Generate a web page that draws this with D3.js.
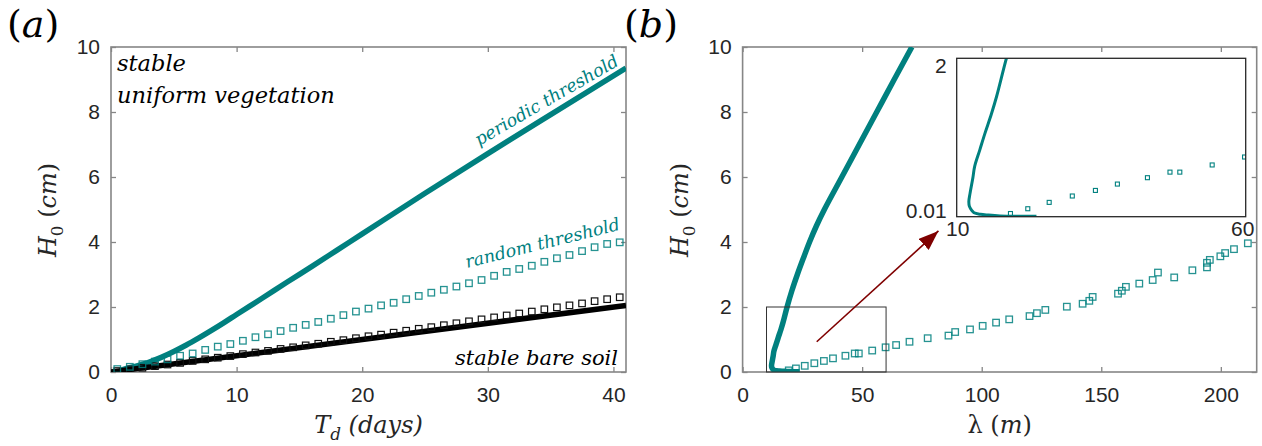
<!DOCTYPE html>
<html><head><meta charset="utf-8">
<script src="https://cdn.jsdelivr.net/npm/d3@7"></script>
<style>
body{margin:0;background:#fff;}
svg{display:block;}
</style></head><body>
<svg id="chart" width="1262" height="446"></svg>
<script>
// ---------- data ----------
// panel (a): periodic threshold curve
const tdPeriodic = [0.7,1,2,3,4,5,6,7,8,9,10,12,14,16,18,20,25,30,35,41];
const hPeriodic  = [0.04,0.08,0.18,0.3,0.45,0.63,0.83,1.05,1.28,1.52,1.77,2.26,2.76,3.25,3.75,4.25,5.5,6.72,7.92,9.35];
// panel (a): bare soil line
const tdBareLine = [0,41];
const hBareLine  = [0,2.05];
// panel (a): square markers
const tdSquares = [0.5,1.5,2.5,3.5,4.5,5.5,6.5,7.5,8.5,9.5,10.5,11.5,12.5,13.5,14.5,15.5,16.5,17.5,18.5,19.5,20.5,21.5,22.5,23.5,24.5,25.5,26.5,27.5,28.5,29.5,30.5,31.5,32.5,33.5,34.5,35.5,36.5,37.5,38.5,39.5,40.5];
const hRandom = [0.09,0.16,0.24,0.32,0.39,0.50,0.57,0.68,0.78,0.86,0.96,1.07,1.16,1.26,1.36,1.45,1.54,1.64,1.75,1.86,1.95,2.05,2.13,2.24,2.34,2.44,2.53,2.63,2.73,2.83,2.96,3.08,3.17,3.27,3.39,3.50,3.60,3.72,3.84,3.94,3.99];
const hBare = [0.03,0.08,0.13,0.18,0.23,0.28,0.34,0.39,0.44,0.49,0.55,0.60,0.65,0.71,0.76,0.82,0.87,0.93,0.98,1.04,1.10,1.15,1.21,1.27,1.33,1.38,1.44,1.50,1.56,1.62,1.68,1.74,1.80,1.86,1.93,1.99,2.05,2.11,2.18,2.24,2.30];
// panel (b): periodic curve (lambda vs H0)
const lamCurve = [23.8,20,17.5,15.5,14.1,13,12.6,12.2,12.1,12.3,12.8,13.1,14.0,14.9,16.0,16.9,18.6,20.6,22.9,25.4,28.0,30.9,34.2,41.5,48.8,56.1,63.4,70.8];
const hCurveB  = [0.005,0.012,0.02,0.03,0.04,0.06,0.09,0.14,0.2,0.3,0.5,0.64,0.85,1.06,1.3,1.52,2.0,2.5,3.0,3.5,4.0,4.5,5.0,6.0,7.0,8.0,9.0,10.0];
// panel (b): random squares
const lamSquares = [19.3,22.3,26.0,30.0,34.0,37.8,43.0,46.9,48.6,54.2,59.8,64.2,69.8,77.4,86.1,88.9,95.1,100.4,106.0,111.5,120.0,123.1,126.6,135.6,142.2,145.0,146.4,157.0,158.6,160.3,165.9,171.5,173.7,180.5,188.1,194.2,194.2,195.4,199.8,201.8,205.5,211.3];
const hSquaresB  = [0.05,0.11,0.19,0.27,0.34,0.42,0.50,0.57,0.57,0.66,0.76,0.83,0.93,1.04,1.12,1.23,1.31,1.42,1.52,1.62,1.72,1.81,1.91,2.01,2.10,2.19,2.31,2.41,2.50,2.62,2.72,2.83,3.06,2.91,3.13,3.22,3.36,3.45,3.56,3.66,3.78,3.96];
// ticks
const xTicksA = [0,10,20,30,40];
const xTicksB = [0,50,100,150,200];
const yTicks  = [0,2,4,6,8,10];
// zoom box / inset ranges
const zoomLam = [10,60];
const zoomH   = [0.01,2];
const insetTickLabels = ["10","60","0.01","2"];
// arrow (data coords of panel b)
const arrowFrom = [31,0.93];
const arrowTo   = [81.9,4.34];

// ---------- setup ----------
const TEAL = "#00807f";
const AXC  = "#868686";
const TXT  = "#262626";
const SANS = "Liberation Sans, Arial, Helvetica, sans-serif";
const SERIF= "DejaVu Serif, Liberation Serif, serif";
const svg = d3.select("#chart");

const xA = d3.scaleLinear().domain([0,41]).range([111,626]);
const yA = d3.scaleLinear().domain([0,10]).range([372,47]);
const xB = d3.scaleLinear().domain([0,215]).range([742.6,1256.7]);
const yB = d3.scaleLinear().domain([0,10]).range([372,47]);

const defs = svg.append("defs");
function clip(id, x, y) {
  defs.append("clipPath").attr("id", id).append("rect")
    .attr("x", x.range()[0]).attr("y", y.range()[1])
    .attr("width", x.range()[1]-x.range()[0]).attr("height", y.range()[0]-y.range()[1]);
}
clip("clipA", xA, yA); clip("clipB", xB, yB);

function axes(x, y, xt, yt) {
  const g = svg.append("g");
  const x0 = x.range()[0], x1 = x.range()[1], y0 = y.range()[0], y1 = y.range()[1];
  const style = sel => {
    sel.select(".domain").remove();
    sel.selectAll(".tick line").attr("stroke", AXC).attr("stroke-width", 1.3);
    sel.selectAll(".tick text").attr("fill", TXT).attr("font-family", SANS).attr("font-size", 21);
  };
  g.append("g").attr("transform", `translate(0,${y0})`)
    .call(d3.axisBottom(x).tickValues(xt).tickSize(-5).tickPadding(15).tickFormat(d3.format("d"))).call(style);
  g.append("g").attr("transform", `translate(0,${y1})`)
    .call(d3.axisTop(x).tickValues(xt).tickSize(-5).tickFormat("")).call(style);
  g.append("g").attr("transform", `translate(${x0},0)`)
    .call(d3.axisLeft(y).tickValues(yt).tickSize(-5).tickPadding(11).tickFormat(d3.format("d"))).call(style);
  g.append("g").attr("transform", `translate(${x1},0)`)
    .call(d3.axisRight(y).tickValues(yt).tickSize(-5).tickFormat("")).call(style);
  g.append("rect").attr("x", x0).attr("y", y1).attr("width", x1-x0).attr("height", y0-y1)
    .attr("fill", "none").attr("stroke", AXC).attr("stroke-width", 1.6);
  return g;
}

// rich text helper: parts [{t, it, sub}]
function rich(g, parts, size, attrs) {
  const t = g.append("text").attr("font-family", SERIF).attr("font-size", size).attr("fill", TXT);
  Object.entries(attrs||{}).forEach(([k,v]) => t.attr(k, v));
  let shifted = 0;
  parts.forEach(p => {
    const s = t.append("tspan").text(p.t)
      .attr("font-style", p.it ? "italic" : "normal");
    const want = p.sub ? size*0.28 : 0;
    if (want !== shifted) { s.attr("dy", want - shifted); shifted = want; }
    if (p.sub) s.attr("font-size", size*0.7);
    if (p.ls) s.attr("letter-spacing", p.ls);
  });
  return t;
}

// ---------- panel (a) ----------
axes(xA, yA, xTicksA, yTicks);
const gA = svg.append("g").attr("clip-path", "url(#clipA)");
gA.append("path")
  .datum(tdPeriodic.map((t,i)=>[t,hPeriodic[i]]))
  .attr("d", d3.line().x(d=>xA(d[0])).y(d=>yA(d[1])).curve(d3.curveMonotoneX))
  .attr("fill","none").attr("stroke",TEAL).attr("stroke-width",5.5);
gA.append("path")
  .datum(tdBareLine.map((t,i)=>[t,hBareLine[i]]))
  .attr("d", d3.line().x(d=>xA(d[0])).y(d=>yA(d[1])))
  .attr("fill","none").attr("stroke","#000").attr("stroke-width",5.5);
const sqA = 6.5;
gA.selectAll(".sb").data(tdSquares.map((t,i)=>[t,hBare[i]])).join("rect")
  .attr("x", d=>xA(d[0])-sqA/2).attr("y", d=>yA(d[1])-sqA/2)
  .attr("width", sqA).attr("height", sqA)
  .attr("fill","none").attr("stroke","#111").attr("stroke-width",1.2);
gA.selectAll(".sr").data(tdSquares.map((t,i)=>[t,hRandom[i]])).join("rect")
  .attr("x", d=>xA(d[0])-sqA/2).attr("y", d=>yA(d[1])-sqA/2)
  .attr("width", sqA).attr("height", sqA)
  .attr("fill","none").attr("stroke",TEAL).attr("stroke-width",1.3).attr("stroke-opacity",0.85);

// annotations (a)
rich(svg, [{t:"stable", it:true}], 22.5, {x:117, y:71, fill:"#000"});
rich(svg, [{t:"uniform vegetation", it:true}], 22.5, {x:117, y:103, fill:"#000"});
rich(svg, [{t:"stable bare soil", it:true}], 21, {x:618, y:365, "text-anchor":"end", fill:"#000"});
rich(svg, [{t:"periodic threshold", it:true}], 17.5, {transform:"translate(479,146) rotate(-30)", fill:TEAL});
rich(svg, [{t:"random threshold", it:true}], 17.5, {transform:"translate(467,268) rotate(-14)", fill:TEAL});

// axis labels (a)
rich(svg, [{t:"T",it:true},{t:"d",it:true,sub:true},{t:" (days)",it:true}], 24, {x:368.5, y:433, "text-anchor":"middle"});
rich(svg, [{t:"H",it:true},{t:"0",sub:true},{t:" (",it:false},{t:"cm",it:true},{t:")"}], 24, {transform:"translate(56,210) rotate(-90)", "text-anchor":"middle"});
rich(svg, [{t:"("},{t:"a",it:true},{t:")"}], 38, {x:7, y:37, fill:"#000"});

// ---------- panel (b) ----------
axes(xB, yB, xTicksB, yTicks);
const gB = svg.append("g").attr("clip-path", "url(#clipB)");
const curveB = lamCurve.map((l,i)=>[l,hCurveB[i]]);
gB.append("path").datum(curveB)
  .attr("d", d3.line().x(d=>xB(d[0])).y(d=>yB(d[1])).curve(d3.curveCatmullRom.alpha(0.5)))
  .attr("fill","none").attr("stroke",TEAL).attr("stroke-width",5.5);
const sqB = 6.5;
gB.selectAll(".sq").data(lamSquares.map((l,i)=>[l,hSquaresB[i]])).join("rect")
  .attr("x", d=>xB(d[0])-sqB/2).attr("y", d=>yB(d[1])-sqB/2)
  .attr("width", sqB).attr("height", sqB)
  .attr("fill","none").attr("stroke",TEAL).attr("stroke-width",1.3).attr("stroke-opacity",0.85);
// zoom box
svg.append("rect").attr("x", xB(zoomLam[0])).attr("y", yB(zoomH[1]))
  .attr("width", xB(zoomLam[1])-xB(zoomLam[0])).attr("height", yB(0)-yB(zoomH[1]))
  .attr("fill","none").attr("stroke","#333").attr("stroke-width",1);
// arrow
defs.append("marker").attr("id","ah").attr("markerUnits","userSpaceOnUse")
  .attr("markerWidth",20).attr("markerHeight",15).attr("refX",20).attr("refY",7.5).attr("orient","auto")
  .append("path").attr("d","M0,0 L20,7.5 L0,15 Z").attr("fill","#7f0000");
const ax1 = xB(arrowFrom[0]), ay1 = yB(arrowFrom[1]), ax2 = xB(arrowTo[0]), ay2 = yB(arrowTo[1]);
svg.append("line").attr("x1",ax1).attr("y1",ay1).attr("x2",ax2).attr("y2",ay2)
  .attr("stroke","#7f0000").attr("stroke-width",1.6).attr("marker-end","url(#ah)");

// inset
const xI = d3.scaleLinear().domain(zoomLam).range([956.7,1245.7]);
const yI = d3.scaleLinear().domain(zoomH).range([216.7,58.3]);
clip("clipI", xI, yI);
svg.append("rect").attr("x",xI.range()[0]).attr("y",yI.range()[1])
  .attr("width",xI.range()[1]-xI.range()[0]).attr("height",yI.range()[0]-yI.range()[1])
  .attr("fill","#fff");
const gI = svg.append("g").attr("clip-path","url(#clipI)");
gI.append("path").datum(curveB)
  .attr("d", d3.line().x(d=>xI(d[0])).y(d=>yI(Math.max(d[1],0.015))).curve(d3.curveCatmullRom.alpha(0.5)))
  .attr("fill","none").attr("stroke",TEAL).attr("stroke-width",3);
const sqI = 4;
gI.selectAll(".si").data(lamSquares.map((l,i)=>[l,hSquaresB[i]])).join("rect")
  .attr("x", d=>xI(d[0])-sqI/2).attr("y", d=>yI(d[1])-sqI/2)
  .attr("width", sqI).attr("height", sqI)
  .attr("fill","none").attr("stroke",TEAL).attr("stroke-width",1.1);
svg.append("rect").attr("x",xI.range()[0]).attr("y",yI.range()[1])
  .attr("width",xI.range()[1]-xI.range()[0]).attr("height",yI.range()[0]-yI.range()[1])
  .attr("fill","none").attr("stroke","#262626").attr("stroke-width",1.3);
const il = svg.append("g").attr("font-family",SANS).attr("font-size",21).attr("fill",TXT);
il.append("text").attr("x",xI(zoomLam[0])+1).attr("y",yI.range()[0]+12).attr("dy","0.35em").attr("text-anchor","middle").text(insetTickLabels[0]);
il.append("text").attr("x",xI(zoomLam[1])-3).attr("y",yI.range()[0]+12).attr("dy","0.35em").attr("text-anchor","middle").text(insetTickLabels[1]);
il.append("text").attr("x",xI.range()[0]-10).attr("y",yI(zoomH[0])-6).attr("dy","0.35em").attr("text-anchor","end").text(insetTickLabels[2]);
il.append("text").attr("x",xI.range()[0]-10).attr("y",yI(zoomH[1])+7).attr("dy","0.35em").attr("text-anchor","end").text(insetTickLabels[3]);

// axis labels (b)
rich(svg, [{t:"λ"},{t:" ("},{t:"m",it:true},{t:")"}], 24, {x:999.6, y:433, "text-anchor":"middle"});
rich(svg, [{t:"H",it:true},{t:"0",sub:true},{t:" (",it:false},{t:"cm",it:true},{t:")"}], 24, {transform:"translate(688,210) rotate(-90)", "text-anchor":"middle"});
rich(svg, [{t:"("},{t:"b",it:true},{t:")"}], 38, {x:624, y:37, fill:"#000"});
</script>
</body></html>
